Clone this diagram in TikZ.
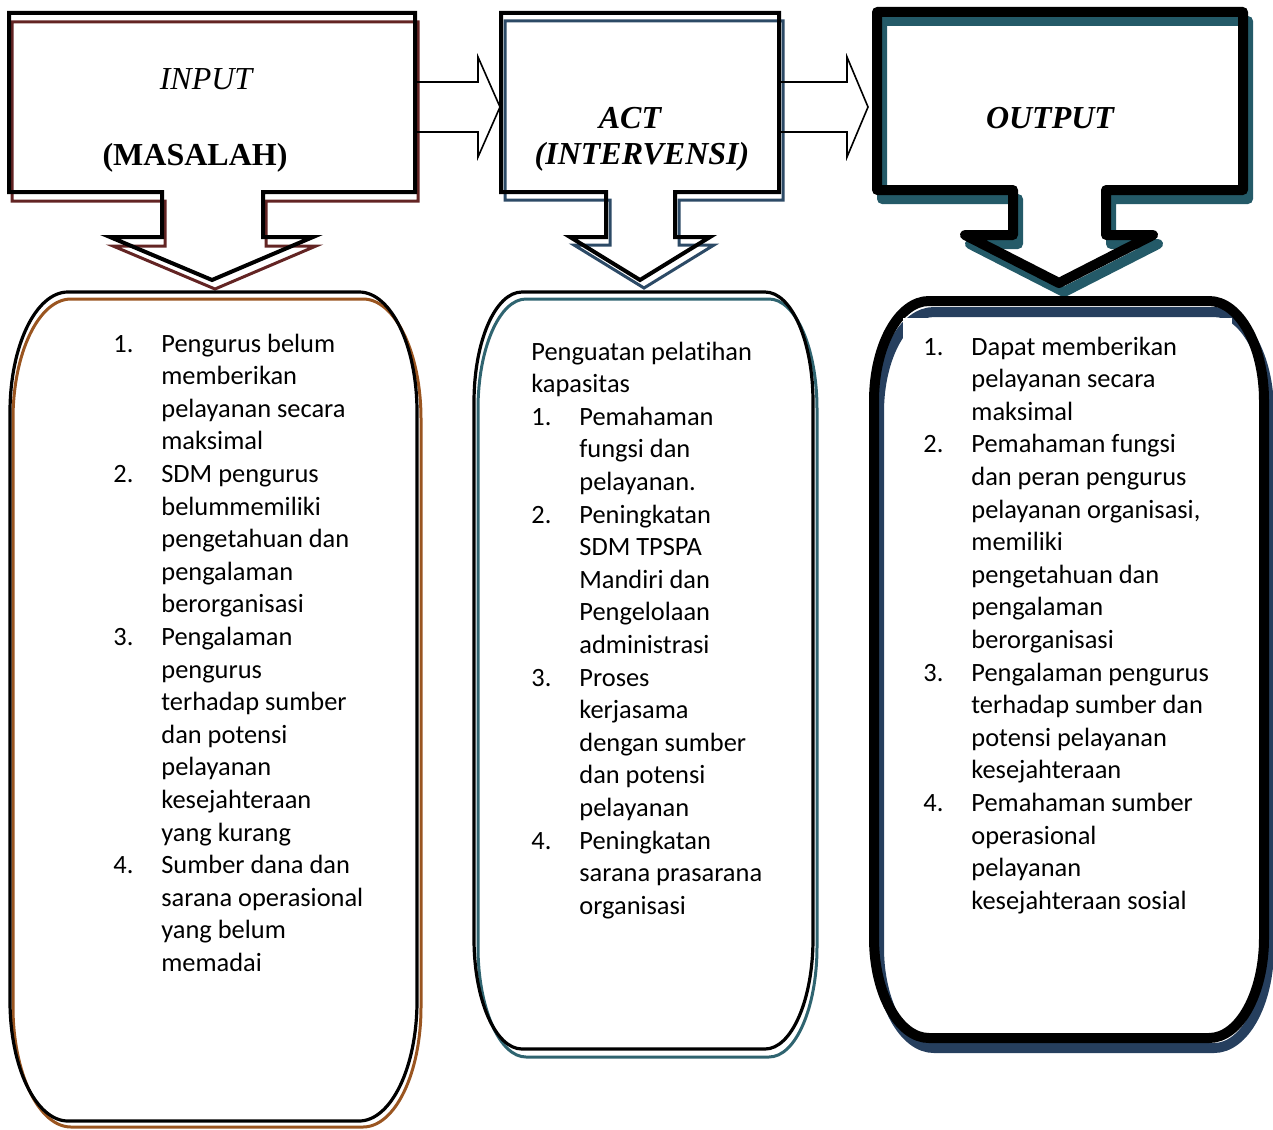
\documentclass[tikz,border=0pt]{standalone}
\usepackage{fontspec}
\setmainfont{Liberation Serif}
\newfontfamily\listfont[Ligatures={NoCommon,NoContextual},RawFeature={-liga;-clig;-dlig}]{Carlito}
\usetikzlibrary{calc}

\definecolor{inmaroon}{HTML}{632423}
\definecolor{inbrown}{HTML}{9A5520}
\definecolor{actslate}{HTML}{2C4A66}
\definecolor{actteal}{HTML}{2F6470}
\definecolor{outteal}{HTML}{245A68}
\definecolor{outnavy}{HTML}{263F5E}

% oval frame with elliptic corners: [style]{x1}{y1}{x2}{y2}{rx}{ry}
\newcommand{\ovalframe}[7][]{%
  \draw[#1] ({#2+#6},#3) -- ({#4-#6},#3)
    arc[start angle=-90,end angle=0,x radius=#6,y radius=#7]
    -- (#4,{#5-#7}) arc[start angle=0,end angle=90,x radius=#6,y radius=#7]
    -- ({#2+#6},#5) arc[start angle=90,end angle=180,x radius=#6,y radius=#7]
    -- (#2,{#3+#7}) arc[start angle=180,end angle=270,x radius=#6,y radius=#7]
    -- cycle;}

\begin{document}
\begin{tikzpicture}[x=0.5pt,y=-0.5pt,
  title/.style={inner sep=0pt,anchor=base,font=\fontsize{16}{19}\selectfont},
  list/.style={inner sep=0pt,anchor=base west,font=\listfont\fontsize{13.2}{16.3}\selectfont},
  callout/.style={draw=black,line width=2pt,line join=miter},
  block arrow/.style={draw=black,line width=0.8pt,line join=miter}]

\useasboundingbox (0,0) rectangle (1273,1129);

% INPUT callout
\draw[callout,draw=inmaroon,line width=1.5pt,shift={(3,9)}] (9,13) -- (415,13) -- (415,192) -- (263,192) -- (263,237) -- (313,237) -- (212,280) -- (110,237) -- (162,237) -- (162,192) -- (9,192) -- cycle;
\draw[callout] (9,13) -- (415,13) -- (415,192) -- (263,192) -- (263,237) -- (313,237) -- (212,280) -- (110,237) -- (162,237) -- (162,192) -- (9,192) -- cycle;
\node[title,font=\fontsize{16}{19}\selectfont\itshape] (inputlbl) at (206,90) {INPUT};
\node[title,font=\fontsize{16}{19}\selectfont\bfseries] (masalahlbl) at (195,165) {(MASALAH)};

% ACT callout
\draw[callout,draw=actslate,line width=1.5pt,shift={(4,8)}] (501,13) -- (779,13) -- (779,192) -- (675,192) -- (675,237) -- (710,237) -- (640,280) -- (570,237) -- (606,237) -- (606,192) -- (501,192) -- cycle;
\draw[callout] (501,13) -- (779,13) -- (779,192) -- (675,192) -- (675,237) -- (710,237) -- (640,280) -- (570,237) -- (606,237) -- (606,192) -- (501,192) -- cycle;
\node[title,font=\fontsize{16}{19}\selectfont\bfseries\itshape] (actlbl) at (630,128) {ACT};
\node[title,font=\fontsize{16}{19}\selectfont\bfseries\itshape] (intervlbl) at (642,164) {(INTERVENSI)};

% OUTPUT callout
\draw[callout,draw=outteal,line width=5pt,line join=round,shift={(5,9)}] (877,12) -- (1243,12) -- (1243,190) -- (1106,190) -- (1106,235) -- (1153,235) -- (1059,283) -- (965,235) -- (1013,235) -- (1013,190) -- (877,190) -- cycle;
\draw[callout,line width=5pt,line join=round] (877,12) -- (1243,12) -- (1243,190) -- (1106,190) -- (1106,235) -- (1153,235) -- (1059,283) -- (965,235) -- (1013,235) -- (1013,190) -- (877,190) -- cycle;
\node[title,font=\fontsize{16}{19}\selectfont\bfseries\itshape] (outputlbl) at (1050,128) {OUTPUT};

% block arrows
\coordinate (inpE) at (415,107);
\coordinate (actW) at (500,107);
\coordinate (actE) at (780,107);
\coordinate (outW) at (868,107);
\draw[block arrow] ($(inpE)+(0,-25)$) -- ($(actW)+(-22,-25)$) -- ($(actW)+(-22,-50)$) -- (actW)
  -- ($(actW)+(-22,50)$) -- ($(actW)+(-22,25)$) -- ($(inpE)+(0,25)$);
\draw[block arrow] ($(actE)+(0,-25)$) -- ($(outW)+(-21,-25)$) -- ($(outW)+(-21,-50)$) -- (outW)
  -- ($(outW)+(-21,50)$) -- ($(outW)+(-21,25)$) -- ($(actE)+(0,25)$);

% frames
\ovalframe[draw=inbrown,line width=1.5pt]{13}{299}{421}{1127}{58}{120}
\ovalframe[draw=black,line width=1.6pt]{10}{292}{417}{1121}{58}{120}
\ovalframe[draw=actteal,line width=1.5pt]{478}{299}{817}{1057}{48}{110}
\ovalframe[draw=black,line width=1.6pt]{474}{292}{813}{1049}{48}{110}
\ovalframe[draw=outnavy,line width=5pt]{879}{312}{1269}{1048}{55}{100}
\ovalframe[draw=black,line width=5pt]{874}{301}{1264}{1038}{55}{100}
\fill[white] (903,318) rectangle (1232,925);

% list texts
\node[list] (listin) at (113,352) {\begin{tabular}[t]{@{}p{24pt}@{}l@{}}
1. & Pengurus belum\\
   & memberikan\\
   & pelayanan secara\\
   & maksimal\\
2. & SDM pengurus\\
   & belummemiliki\\
   & pengetahuan dan\\
   & pengalaman\\
   & berorganisasi\\
3. & Pengalaman\\
   & pengurus\\
   & terhadap sumber\\
   & dan potensi\\
   & pelayanan\\
   & kesejahteraan\\
   & yang kurang\\
4. & Sumber dana dan\\
   & sarana operasional\\
   & yang belum\\
   & memadai
\end{tabular}};

\node[list] (listact) at (531,360) {\begin{tabular}[t]{@{}p{24pt}@{}l@{}}
\multicolumn{2}{@{}l@{}}{Penguatan pelatihan}\\
\multicolumn{2}{@{}l@{}}{kapasitas}\\
1. & Pemahaman\\
   & fungsi dan\\
   & pelayanan.\\
2. & Peningkatan\\
   & SDM TPSPA\\
   & Mandiri dan\\
   & Pengelolaan\\
   & administrasi\\
3. & Proses\\
   & kerjasama\\
   & dengan sumber\\
   & dan potensi\\
   & pelayanan\\
4. & Peningkatan\\
   & sarana prasarana\\
   & organisasi
\end{tabular}};

\node[list] (listout) at (923,355) {\begin{tabular}[t]{@{}p{24pt}@{}l@{}}
1. & Dapat memberikan\\
   & pelayanan secara\\
   & maksimal\\
2. & Pemahaman fungsi\\
   & dan peran pengurus\\
   & pelayanan organisasi,\\
   & memiliki\\
   & pengetahuan dan\\
   & pengalaman\\
   & berorganisasi\\
3. & Pengalaman pengurus\\
   & terhadap sumber dan\\
   & potensi pelayanan\\
   & kesejahteraan\\
4. & Pemahaman sumber\\
   & operasional\\
   & pelayanan\\
   & kesejahteraan sosial
\end{tabular}};
\end{tikzpicture}
\end{document}
